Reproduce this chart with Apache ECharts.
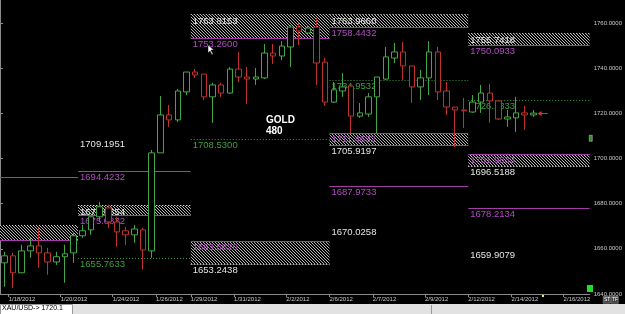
<!DOCTYPE html>
<html><head><meta charset="utf-8">
<script src="https://cdn.jsdelivr.net/npm/echarts@6/dist/echarts.min.js"></script>
<style>html,body{margin:0;padding:0;background:#000;overflow:hidden}#c{width:625px;height:314px}</style>
</head><body><div id="c"></div>
<script>
// ---- candle data (XAU/USD) ----
const opens  = [1653.8,1656.9,1649.4,1659.1,1661.3,1658.2,1654.2,1656.5,1658.2,1665.8,1668.4,1674.2,1678.1,1671.9,1668.0,1666.2,1668.4,1659.1,1702.5,1719.3,1717.1,1729.5,1738.3,1737.4,1727.3,1732.6,1729.0,1739.6,1736.1,1735.2,1735.7,1746.7,1745.4,1749.4,1758.2,1755.6,1758.2,1742.7,1725.0,1729.9,1732.1,1718.8,1719.7,1727.3,1735.2,1744.5,1747.2,1741.0,1731.7,1735.7,1747.2,1729.9,1722.8,1721.5,1720.6,1725.0,1729.0,1725.5,1717.5,1718.0,1720.2,1719.3];
const closes = [1656.9,1649.4,1659.1,1661.3,1658.2,1654.2,1656.5,1657.8,1665.8,1668.0,1674.2,1678.6,1671.9,1667.5,1666.2,1668.8,1659.5,1702.5,1719.3,1717.1,1729.9,1738.3,1737.0,1727.3,1732.6,1729.0,1739.6,1736.1,1735.2,1736.1,1746.7,1745.4,1749.8,1758.2,1756.5,1757.8,1742.3,1725.0,1730.4,1731.7,1718.8,1720.2,1727.3,1736.1,1745.0,1747.2,1741.0,1731.7,1735.7,1747.2,1729.5,1722.8,1721.5,1721.1,1725.0,1729.0,1725.5,1717.5,1718.4,1720.2,1719.3,1720.1];
const lows   = [1643.2,1642.7,1649.4,1656.0,1651.6,1648.5,1652.9,1645.0,1653.8,1664.9,1666.2,1671.9,1669.3,1660.9,1661.8,1662.7,1650.7,1656.0,1702.5,1714.0,1716.2,1728.1,1735.7,1725.9,1715.8,1727.3,1728.6,1733.9,1724.2,1732.6,1735.2,1741.9,1743.6,1740.5,1750.3,1754.7,1732.6,1723.3,1724.6,1727.3,1711.3,1718.0,1718.4,1711.3,1734.8,1742.3,1734.8,1724.6,1725.9,1728.1,1725.9,1719.3,1705.1,1713.5,1720.2,1720.2,1715.8,1717.1,1714.0,1711.8,1712.7,1718.4];
const highs  = [1658.7,1658.2,1661.8,1664.9,1669.3,1660.4,1658.7,1661.8,1667.5,1670.6,1674.2,1680.8,1679.5,1674.2,1669.7,1670.6,1669.3,1703.8,1727.7,1723.7,1730.8,1738.3,1739.6,1737.4,1733.5,1733.5,1740.5,1747.2,1740.5,1740.1,1750.7,1750.7,1752.0,1759.1,1760.0,1759.1,1762.2,1744.5,1733.9,1737.9,1732.6,1724.6,1729.0,1736.1,1749.4,1751.2,1751.6,1741.0,1739.2,1752.0,1749.4,1733.9,1722.8,1726.8,1728.1,1732.6,1733.0,1725.5,1721.5,1727.3,1723.3,1721.5];
const slotCount = 68; // bar slots across the plot (incl. empty future slots)

// ---- date ticks (slot positions) ----
const dateTickPos   = [1, 7, 13, 18, 22, 27, 33, 38, 43, 49, 54, 59, 65];
const dateTickLabel = ['1/18/2012','1/20/2012','1/24/2012','1/26/2012','1/29/2012','1/31/2012','2/2/2012','2/6/2012','2/7/2012','2/9/2012','2/12/2012','2/14/2012','2/16/2012'];

// ---- weekly pivot segments ----
const segStart = [0, 9, 22, 38, 54];
const segEnd   = [9, 22, 38, 54, 68];

// hatched zones
const zoneSeg   = [0, 1, 2, 2, 3, 3, 4, 4];
const zoneHigh  = [1670.6, 1679.5354, 1763.8153, 1663.6820, 1763.9660, 1711.4632, 1755.7418, 1701.9833];
const zoneLow   = [1664.1, 1675.0832, 1753.2600, 1653.2438, 1758.4432, 1705.9197, 1750.0933, 1696.5188];
const zoneKind  = ['R', 'R', 'R', 'S', 'R', 'S', 'R', 'S'];
const zoneLabel = [false, true, true, true, true, true, true, true];

// solid purple levels
const purpleSeg   = [0, 1, 3, 4];
const purplePrice = [1692.0, 1694.4232, 1687.9733, 1678.2134];
const purpleLabel = [false, true, true, true];

// green dotted pivots
const pivotSeg   = [1, 2, 3, 4];
const pivotPrice = [1655.7633, 1708.5300, 1734.9532, 1726.1333];

// white labels only
const whiteSeg   = [1, 3, 4];
const whitePrice = [1709.1951, 1670.0258, 1659.9079];

const yTicks = [1640, 1660, 1680, 1700, 1720, 1740, 1760];

const PURPLE = '#a53aa8', PURPLE_T = '#b24cc2', GREEN = '#3f9f3f', WHITE = '#e4e4e4';
const FONT = '9.5px "Liberation Sans"';

// hatch pattern
const tile = document.createElement('canvas');
tile.width = 3; tile.height = 3;
(function(){ const g = tile.getContext('2d'); g.fillStyle = '#000'; g.fillRect(0,0,3,3); g.fillStyle = '#b4b4b4'; for (let k=0;k<3;k++) g.fillRect(k,k,1,1); })();
const hatch = { image: tile, repeat: 'repeat' };

function lbl(x, y, text, color) {
  return { type: 'text', x: x + 2, y: y + 1, style: { text: text, fill: color, font: FONT, align: 'left', verticalAlign: 'top' } };
}
function hline(x0, x1, y, stroke, dash) {
  return { type: 'line', shape: { x1: x0, y1: y, x2: x1, y2: y }, style: { stroke: stroke, lineWidth: 1, lineDash: dash || null } };
}
const px = v => Math.round(v) + 0.5;

const chart = echarts.init(document.getElementById('c'), null, { renderer: 'canvas' });
const last = closes.length - 1;

chart.setOption({
  backgroundColor: '#000',
  animation: false,
  grid: { left: 0, right: 32, top: 0, bottom: 20 },
  xAxis: [
    { type: 'category', data: Array.from({ length: slotCount }, (_, i) => String(i)), boundaryGap: true, show: false },
    { type: 'value', min: 0, max: slotCount, position: 'bottom',
      axisLine: { show: true, lineStyle: { color: '#8a8a8a', width: 1 } },
      axisTick: { show: true, length: 3, customValues: dateTickPos, lineStyle: { color: '#8a8a8a' } },
      axisLabel: { show: true, customValues: dateTickPos, color: '#c8c8c8', fontSize: 6, fontFamily: 'Liberation Sans', align: 'left', margin: 2,
        formatter: v => { const k = dateTickPos.indexOf(v); return k >= 0 ? dateTickLabel[k] : ''; } },
      splitLine: { show: false } }
  ],
  yAxis: [{
    type: 'value', position: 'right', min: yTicks[0], max: 1770.2, interval: 20, scale: true,
    axisLine: { show: true, lineStyle: { color: '#8a8a8a' } },
    axisTick: { show: true, length: 3, lineStyle: { color: '#8a8a8a' } },
    axisLabel: { color: '#c8c8c8', fontSize: 6, fontFamily: 'Liberation Sans', margin: 4, showMaxLabel: false,
      formatter: v => (yTicks.indexOf(v) >= 0 ? v.toFixed(4) : '') },
    splitLine: { show: false }
  }],
  series: [
    { type: 'custom', name: 'zones', xAxisIndex: 1, yAxisIndex: 0, z: 1, silent: true,
      data: zoneHigh.map((v, i) => [segStart[zoneSeg[i]], v]),
      renderItem: (params, api) => {
        const i = params.dataIndex, s = zoneSeg[i];
        const a = api.coord([segStart[s], zoneHigh[i]]), b = api.coord([segEnd[s], zoneLow[i]]);
        const yT = px(a[1]), yB = px(b[1]), x0 = a[0], x1 = b[0];
        const ch = [{ type: 'rect', shape: { x: x0, y: yT, width: x1 - x0, height: yB - yT }, style: { fill: hatch } }];
        if (zoneKind[i] === 'R') {
          ch.push(hline(x0, x1, yT, '#dddddd', [1, 2]));
          ch.push(hline(x0, x1, yB, PURPLE));
          if (zoneLabel[i]) { ch.push(lbl(x0, yT + 1, zoneHigh[i].toFixed(4), WHITE)); ch.push(lbl(x0, yB, zoneLow[i].toFixed(4), PURPLE_T)); }
        } else {
          ch.push(hline(x0, x1, yT, PURPLE));
          ch.push(hline(x0, x1, yB, '#dddddd', [1, 2]));
          if (zoneLabel[i]) { ch.push(lbl(x0, yT, zoneHigh[i].toFixed(4), PURPLE_T)); ch.push(lbl(x0, yB, zoneLow[i].toFixed(4), WHITE)); }
        }
        return { type: 'group', children: ch };
      } },
    { type: 'custom', name: 'purple', xAxisIndex: 1, yAxisIndex: 0, z: 1, silent: true,
      data: purplePrice.map((v, i) => [segStart[purpleSeg[i]], v]),
      renderItem: (params, api) => {
        const i = params.dataIndex, s = purpleSeg[i];
        const a = api.coord([segStart[s], purplePrice[i]]), b = api.coord([segEnd[s], purplePrice[i]]);
        const y = px(a[1]);
        const ch = [hline(a[0], b[0], y, PURPLE)];
        if (purpleLabel[i]) ch.push(lbl(a[0], y, purplePrice[i].toFixed(4), PURPLE_T));
        return { type: 'group', children: ch };
      } },
    { type: 'custom', name: 'pivot', xAxisIndex: 1, yAxisIndex: 0, z: 1, silent: true,
      data: pivotPrice.map((v, i) => [segStart[pivotSeg[i]], v]),
      renderItem: (params, api) => {
        const i = params.dataIndex, s = pivotSeg[i];
        const a = api.coord([segStart[s], pivotPrice[i]]), b = api.coord([segEnd[s], pivotPrice[i]]);
        const y = px(a[1]);
        return { type: 'group', children: [hline(a[0], b[0], y, GREEN, [1, 2]), lbl(a[0], y, pivotPrice[i].toFixed(4), GREEN)] };
      } },
    { type: 'custom', name: 'white', xAxisIndex: 1, yAxisIndex: 0, z: 1, silent: true,
      data: whitePrice.map((v, i) => [segStart[whiteSeg[i]], v]),
      renderItem: (params, api) => {
        const i = params.dataIndex, s = whiteSeg[i];
        const a = api.coord([segStart[s], whitePrice[i]]);
        return lbl(a[0], px(a[1]), whitePrice[i].toFixed(4), WHITE);
      } },
    { type: 'candlestick', name: 'XAU/USD', xAxisIndex: 0, yAxisIndex: 0, z: 3, barWidth: 6,
      data: opens.map((o, i) => [o, closes[i], lows[i], highs[i]]),
      itemStyle: { color: '#000', color0: '#000', borderColor: '#43a843', borderColor0: '#c0322c', borderWidth: 1 },
      markLine: { silent: true, symbol: 'none', data: [{ yAxis: closes[last] }],
        lineStyle: { opacity: 0 },
        label: { position: 'end', distance: 1, formatter: () => closes[last].toFixed(4), color: '#000', backgroundColor: '#fff',
          fontSize: 6, fontFamily: 'Liberation Sans', padding: [1, 2, 1, 2] } } },
    { type: 'custom', name: 'arrow', xAxisIndex: 1, yAxisIndex: 0, z: 4, silent: true,
      data: [[closes.length, closes[last]]],
      renderItem: (params, api) => {
        const p = api.coord([closes.length, closes[last]]);
        const x = p[0], y = px(p[1]);
        return { type: 'group', children: [
          hline(x + 1, x + 10, y, '#d23a2a'),
          { type: 'polygon', shape: { points: [[x, y], [x + 4, y - 2.5], [x + 4, y + 2.5]] }, style: { fill: '#d23a2a' } }
        ] };
      } }
  ],
  graphic: [
    { type: 'text', left: 266, top: 115, style: { text: 'GOLD', fill: '#ffffff', font: 'bold 10px "Liberation Sans"' } },
    { type: 'text', left: 266, top: 126, style: { text: '480', fill: '#ffffff', font: 'bold 10px "Liberation Sans"' } },
    { type: 'polygon', shape: { points: [[208, 45], [208, 53], [210, 51], [212, 55], [213, 54], [211, 50], [214, 50]] }, style: { fill: '#ffffff', stroke: '#000', lineWidth: 0.5 }, z: 100 },
    { type: 'rect', left: 587, top: 285, shape: { width: 6, height: 7 }, style: { fill: '#22dd22' } },
    { type: 'rect', left: 589, top: 135, shape: { width: 3, height: 6 }, style: { fill: '#2a8a2a', stroke: '#ddd', lineWidth: 0.5 } },
    { type: 'rect', left: 542, top: 295, shape: { width: 2, height: 2 }, style: { fill: '#eeee66' } },
    { type: 'rect', left: 603, top: 296, shape: { width: 7, height: 7 }, style: { fill: '#444', stroke: '#aaa', lineWidth: 0.5 } },
    { type: 'rect', left: 611, top: 296, shape: { width: 7, height: 7 }, style: { fill: '#444', stroke: '#aaa', lineWidth: 0.5 } },
    { type: 'text', left: 604, top: 297, style: { text: 'ST', fill: '#fff', font: '5px "Liberation Sans"' } },
    { type: 'text', left: 612, top: 297, style: { text: 'TF', fill: '#fff', font: '5px "Liberation Sans"' } },
    { type: 'rect', left: 0, top: 304, shape: { width: 625, height: 10 }, style: { fill: '#e2e2e2' } },
    { type: 'rect', left: 0, top: 304, shape: { width: 72, height: 10 }, style: { fill: '#ffffff', stroke: '#9a9a9a', lineWidth: 1 } },
    { type: 'rect', left: 431, top: 305, shape: { width: 1, height: 9 }, style: { fill: '#9a9a9a' } },
    { type: 'text', left: 2, top: 305, style: { text: 'XAU/USD-> ' + closes[last].toFixed(1), fill: '#000', font: '7px "Liberation Sans"' } }
  ]
});
</script>
</body></html>
